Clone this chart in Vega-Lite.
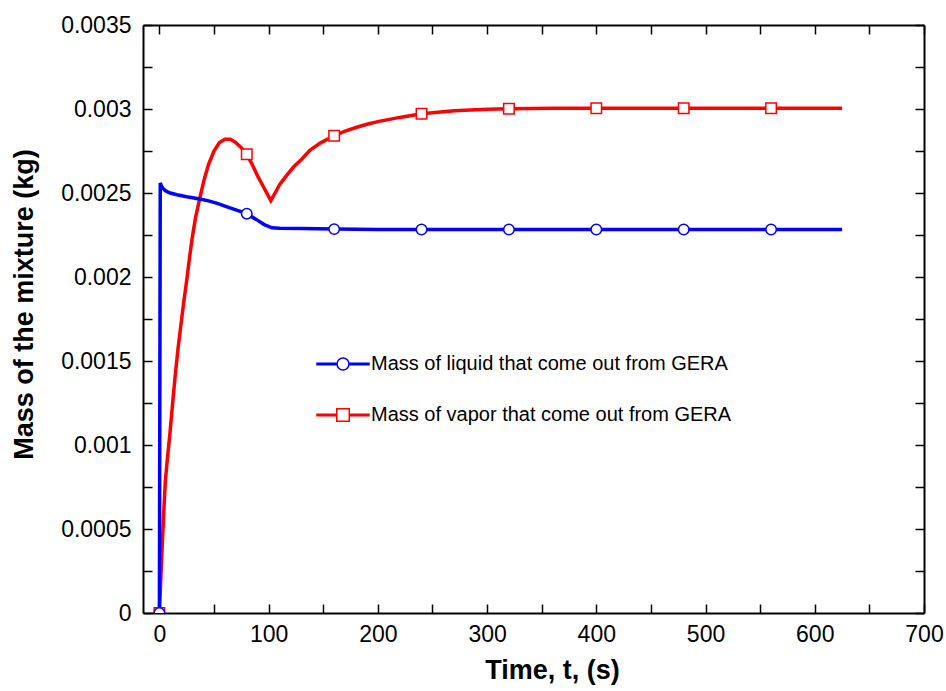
{
  "$schema": "https://vega.github.io/schema/vega-lite/v6.json",
  "width": 781,
  "height": 588,
  "autosize": {"type": "none"},
  "padding": {"left": 143, "top": 25, "right": 22, "bottom": 78},
  "background": "white",
  "config": {
    "view": {"stroke": null},
    "font": "Liberation Sans",
    "axis": {
      "grid": false,
      "domainColor": "black",
      "domainWidth": 2,
      "tickColor": "black",
      "tickWidth": 1.5,
      "tickSize": -9,
      "labelFont": "Liberation Sans",
      "labelFontSize": 23,
      "labelColor": "black",
      "titleFont": "Liberation Sans",
      "titleFontSize": 27,
      "titleFontWeight": "bold",
      "titleColor": "black",
      "labelFlush": false,
      "labelOverlap": false
    },
    "legend": {
      "title": null,
      "orient": "none",
      "legendX": 173,
      "legendY": 312,
      "padding": 0,
      "rowPadding": 14,
      "labelFont": "Liberation Sans",
      "labelFontSize": 20,
      "labelColor": "black",
      "labelOffset": 1,
      "labelLimit": 600,
      "symbolSize": 2704,
      "symbolStrokeWidth": 1.5,
      "symbolOpacity": 1,
      "symbolFillColor": "white"
    }
  },
  "datasets": {
    "curves": [
      {"t": 0, "mass": 0, "series": "vapor"},
      {"t": 1, "mass": 0.00016, "series": "vapor"},
      {"t": 2.5, "mass": 0.00039, "series": "vapor"},
      {"t": 4, "mass": 0.0006, "series": "vapor"},
      {"t": 5.5, "mass": 0.00079, "series": "vapor"},
      {"t": 7.5, "mass": 0.00093, "series": "vapor"},
      {"t": 9.4, "mass": 0.00105, "series": "vapor"},
      {"t": 12, "mass": 0.00124, "series": "vapor"},
      {"t": 14.6, "mass": 0.00142, "series": "vapor"},
      {"t": 17, "mass": 0.00157, "series": "vapor"},
      {"t": 20, "mass": 0.00173, "series": "vapor"},
      {"t": 22.5, "mass": 0.00186, "series": "vapor"},
      {"t": 25, "mass": 0.00198, "series": "vapor"},
      {"t": 27.5, "mass": 0.00211, "series": "vapor"},
      {"t": 30, "mass": 0.00223, "series": "vapor"},
      {"t": 33, "mass": 0.00235, "series": "vapor"},
      {"t": 37, "mass": 0.00247, "series": "vapor"},
      {"t": 41, "mass": 0.00258, "series": "vapor"},
      {"t": 45, "mass": 0.00267, "series": "vapor"},
      {"t": 50, "mass": 0.00275, "series": "vapor"},
      {"t": 55, "mass": 0.0028, "series": "vapor"},
      {"t": 60, "mass": 0.00282, "series": "vapor"},
      {"t": 65, "mass": 0.00282, "series": "vapor"},
      {"t": 70, "mass": 0.0028, "series": "vapor"},
      {"t": 75, "mass": 0.00277, "series": "vapor"},
      {"t": 80, "mass": 0.00273, "series": "vapor"},
      {"t": 85, "mass": 0.00267, "series": "vapor"},
      {"t": 90, "mass": 0.0026, "series": "vapor"},
      {"t": 95, "mass": 0.00254, "series": "vapor"},
      {"t": 102, "mass": 0.002455, "series": "vapor"},
      {"t": 106, "mass": 0.0025, "series": "vapor"},
      {"t": 110, "mass": 0.00255, "series": "vapor"},
      {"t": 116, "mass": 0.0026, "series": "vapor"},
      {"t": 123, "mass": 0.002656, "series": "vapor"},
      {"t": 130, "mass": 0.0027, "series": "vapor"},
      {"t": 138, "mass": 0.002756, "series": "vapor"},
      {"t": 148, "mass": 0.0028, "series": "vapor"},
      {"t": 160, "mass": 0.002841, "series": "vapor"},
      {"t": 170, "mass": 0.002868, "series": "vapor"},
      {"t": 180, "mass": 0.00289, "series": "vapor"},
      {"t": 190, "mass": 0.002909, "series": "vapor"},
      {"t": 200, "mass": 0.002925, "series": "vapor"},
      {"t": 220, "mass": 0.00295, "series": "vapor"},
      {"t": 240, "mass": 0.002972, "series": "vapor"},
      {"t": 270, "mass": 0.00299, "series": "vapor"},
      {"t": 300, "mass": 0.002998, "series": "vapor"},
      {"t": 320, "mass": 0.003002, "series": "vapor"},
      {"t": 360, "mass": 0.003004, "series": "vapor"},
      {"t": 400, "mass": 0.003005, "series": "vapor"},
      {"t": 480, "mass": 0.003005, "series": "vapor"},
      {"t": 560, "mass": 0.003005, "series": "vapor"},
      {"t": 625, "mass": 0.003005, "series": "vapor"},
      {"t": 0, "mass": 0, "series": "liquid"},
      {"t": 0.8, "mass": 0.00256, "series": "liquid"},
      {"t": 2, "mass": 0.00254, "series": "liquid"},
      {"t": 3, "mass": 0.00253, "series": "liquid"},
      {"t": 5, "mass": 0.002516, "series": "liquid"},
      {"t": 7.5, "mass": 0.002507, "series": "liquid"},
      {"t": 10, "mass": 0.0025, "series": "liquid"},
      {"t": 16, "mass": 0.00249, "series": "liquid"},
      {"t": 25, "mass": 0.002478, "series": "liquid"},
      {"t": 37, "mass": 0.002464, "series": "liquid"},
      {"t": 45, "mass": 0.002453, "series": "liquid"},
      {"t": 53, "mass": 0.002438, "series": "liquid"},
      {"t": 60, "mass": 0.002422, "series": "liquid"},
      {"t": 70, "mass": 0.0024, "series": "liquid"},
      {"t": 80, "mass": 0.002377, "series": "liquid"},
      {"t": 90, "mass": 0.002337, "series": "liquid"},
      {"t": 96, "mass": 0.002312, "series": "liquid"},
      {"t": 103, "mass": 0.002293, "series": "liquid"},
      {"t": 110, "mass": 0.00229, "series": "liquid"},
      {"t": 130, "mass": 0.002288, "series": "liquid"},
      {"t": 160, "mass": 0.002285, "series": "liquid"},
      {"t": 200, "mass": 0.002283, "series": "liquid"},
      {"t": 625, "mass": 0.002283, "series": "liquid"}
    ],
    "markers": [
      {"t": 0, "mass": 0, "series": "vapor"},
      {"t": 80, "mass": 0.00273, "series": "vapor"},
      {"t": 160, "mass": 0.002841, "series": "vapor"},
      {"t": 240, "mass": 0.002972, "series": "vapor"},
      {"t": 320, "mass": 0.003002, "series": "vapor"},
      {"t": 400, "mass": 0.003005, "series": "vapor"},
      {"t": 480, "mass": 0.003005, "series": "vapor"},
      {"t": 560, "mass": 0.003005, "series": "vapor"},
      {"t": 0, "mass": 0, "series": "liquid"},
      {"t": 80, "mass": 0.002377, "series": "liquid"},
      {"t": 160, "mass": 0.002285, "series": "liquid"},
      {"t": 240, "mass": 0.002283, "series": "liquid"},
      {"t": 320, "mass": 0.002283, "series": "liquid"},
      {"t": 400, "mass": 0.002283, "series": "liquid"},
      {"t": 480, "mass": 0.002283, "series": "liquid"},
      {"t": 560, "mass": 0.002283, "series": "liquid"}
    ]
  },
  "layer": [
    {
      "data": {"name": "curves"},
      "mark": {"type": "line", "strokeWidth": 3.5, "clip": true},
      "encoding": {
        "x": {
          "field": "t", "type": "quantitative",
          "scale": {"domain": [-15, 700], "nice": false, "zero": false},
          "axis": {
            "orient": "bottom",
            "values": [0, 50, 100, 150, 200, 250, 300, 350, 400, 450, 500, 550, 600, 650, 700],
            "labelExpr": "datum.value % 100 === 0 ? datum.label : ''",
            "labelPadding": 19,
            "title": "Time, t, (s)",
            "titleX": 409,
            "titleY": 44,
            "titleBaseline": "top"
          }
        },
        "y": {
          "field": "mass", "type": "quantitative",
          "scale": {"domain": [0, 0.0035], "nice": false},
          "axis": {
            "orient": "left",
            "values": [0, 0.00025, 0.0005, 0.00075, 0.001, 0.00125, 0.0015, 0.00175, 0.002, 0.00225, 0.0025, 0.00275, 0.003, 0.00325, 0.0035],
            "labelExpr": "round(datum.value * 20000) % 10 === 0 ? format(datum.value, '.4~f') : ''",
            "labelPadding": 21,
            "title": "Mass of the mixture (kg)",
            "titleX": -111,
            "titleY": 279,
            "titleBaseline": "alphabetic"
          }
        },
        "color": {
          "field": "series", "type": "nominal",
          "scale": {"domain": ["liquid", "vapor"], "range": ["#0000ff", "#ff0000"]},
          "legend": {
            "title": null,
            "rowPadding": 14,
            "labelExpr": "datum.value === 'liquid' ? 'Mass of liquid that come out from GERA' : 'Mass of vapor that come out from GERA'"
          }
        }
      }
    },
    {
      "data": {"name": "markers"},
      "transform": [{"filter": "datum.series === 'vapor'"}],
      "mark": {"type": "point", "shape": "square", "filled": false, "fill": "white", "fillOpacity": 1, "stroke": "#ff0000", "size": 110, "strokeWidth": 1.5, "opacity": 1, "clip": true},
      "encoding": {
        "x": {
          "field": "t", "type": "quantitative",
          "scale": {"domain": [-15, 700], "nice": false, "zero": false},
          "axis": {
            "orient": "top",
            "values": [0, 50, 100, 150, 200, 250, 300, 350, 400, 450, 500, 550, 600, 650, 700],
            "labels": false,
            "title": null
          }
        },
        "y": {
          "field": "mass", "type": "quantitative",
          "scale": {"domain": [0, 0.0035], "nice": false},
          "axis": {
            "orient": "right",
            "values": [0, 0.00025, 0.0005, 0.00075, 0.001, 0.00125, 0.0015, 0.00175, 0.002, 0.00225, 0.0025, 0.00275, 0.003, 0.00325, 0.0035],
            "labels": false,
            "title": null
          }
        }
      }
    },
    {
      "data": {"name": "markers"},
      "transform": [{"filter": "datum.series === 'liquid'"}],
      "mark": {"type": "point", "shape": "circle", "filled": false, "fill": "white", "fillOpacity": 1, "stroke": "#0000ff", "size": 110, "strokeWidth": 1.5, "opacity": 1, "clip": true},
      "encoding": {
        "x": {"field": "t", "type": "quantitative", "axis": null},
        "y": {"field": "mass", "type": "quantitative", "axis": null}
      }
    },
    {
      "data": {"name": "markers"},
      "mark": {"type": "point", "opacity": 0, "size": 10},
      "encoding": {
        "x": {"field": "t", "type": "quantitative", "axis": null},
        "y": {"field": "mass", "type": "quantitative", "axis": null},
        "shape": {
          "field": "series", "type": "nominal",
          "scale": {"domain": ["liquid", "vapor"], "range": ["M-1,-0.03H-0.23V0.03H-1Z M0.23,-0.03H1V0.03H0.23Z M-0.23,0A0.23,0.23 0 1,0 0.23,0A0.23,0.23 0 1,0 -0.23,0Z", "M-1,-0.03H-0.24V0.03H-1Z M0.24,-0.03H1V0.03H0.24Z M-0.24,-0.24H0.24V0.24H-0.24Z"]},
          "legend": null
        }
      }
    }
  ],
  "resolve": {"axis": {"x": "independent", "y": "independent"}}
}
